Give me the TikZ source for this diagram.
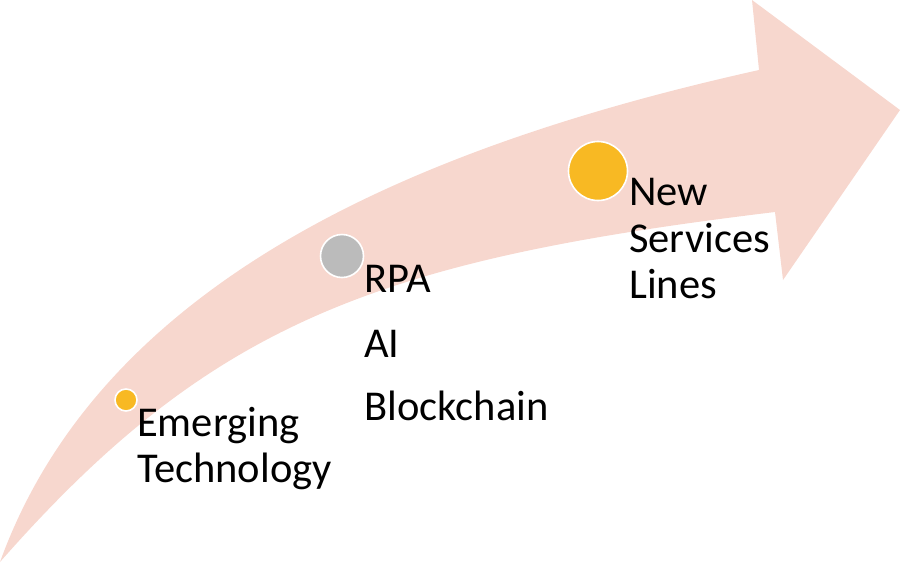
\documentclass[tikz,border=0pt]{standalone}
\usepackage{fontspec}
\setmainfont{Carlito}
\definecolor{arrowpink}{HTML}{F7D7CE}
\definecolor{dotorange}{HTML}{F8B923}
\definecolor{dotgray}{HTML}{BBBBBB}
\begin{document}
\begin{tikzpicture}[x=1pt,y=-1pt,
  lbl/.style={anchor=base west,inner sep=0pt,font=\fontsize{42.5}{46}\selectfont,text=black},
  dot/.style={circle,draw=white,line width=1.6pt,inner sep=0pt}]
\useasboundingbox (0,0) rectangle (904,563);
% curved arrow
\fill[arrowpink] (0,562) .. controls (102,280) and (417,146) .. (759,70)
  -- (752,0) -- (900,110) -- (783,280) -- (775,212)
  .. controls (378,260) and (211,322) .. (0,562) -- cycle;
% dots
\node[dot,fill=dotorange,minimum size=22pt] (d1) at (126,400) {};
\node[dot,fill=dotgray,minimum size=43pt] (d2) at (342,256) {};
\node[dot,fill=dotorange,minimum size=59pt] (d3) at (598,171) {};
% labels
\node[lbl] (e1) at (137,436) {Emerging};
\node[lbl] (e2) at (137,482) {Technology};
\node[lbl] (r1) at (364,292) {RPA};
\node[lbl] (r2) at (364,357) {AI};
\node[lbl] (r3) at (364,420) {Blockchain};
\node[lbl] (n1) at (629,205) {New};
\node[lbl] (n2) at (629,252) {Services};
\node[lbl] (n3) at (629,298) {Lines};
\end{tikzpicture}
\end{document}
